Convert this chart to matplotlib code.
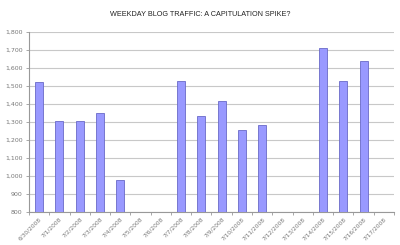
import numpy as np
import matplotlib
matplotlib.use("Agg")
import matplotlib.pyplot as plt
from matplotlib.ticker import FuncFormatter

# daily visits, weekends / holiday left blank
dates = ["6/30/2008", "7/1/2008", "7/2/2008", "7/3/2008", "7/4/2008", "7/5/2008",
         "7/6/2008", "7/7/2008", "7/8/2008", "7/9/2008", "7/10/2008", "7/11/2008",
         "7/12/2008", "7/13/2008", "7/14/2008", "7/15/2008", "7/16/2008", "7/17/2008"]
visits = [1521, 1308, 1304, 1348, 977, np.nan,
          np.nan, 1526, 1333, 1415, 1253, 1283,
          np.nan, np.nan, 1710, 1530, 1638, np.nan]

fig = plt.figure(figsize=(4, 2.45), dpi=100)
ax = fig.add_axes([0.0725, 0.1347, 0.9125, 0.7347])

x = np.arange(len(dates))
vals = np.array(visits, dtype=float)
mask = ~np.isnan(vals)
ax.bar(x[mask], vals[mask] - 800, bottom=800, width=0.4,
       color="#9999ff", edgecolor="#6a6ac8", linewidth=0.6, zorder=3)

ax.set_xlim(-0.5, len(dates) - 0.5)
ax.set_ylim(800, 1800)
ax.set_yticks(np.arange(800, 1801, 100))
ax.yaxis.set_major_formatter(FuncFormatter(lambda v, p: f"{int(v):,}"))
ax.grid(axis="y", color="#c8c8c8", linewidth=0.8, zorder=0)

ax.set_xticks(x)
ax.set_xticklabels(dates, rotation=45, ha="right", rotation_mode="anchor")
ax.set_xticks(np.arange(-0.5, len(dates), 1), minor=True)
ax.tick_params(axis="x", which="major", length=0, labelsize=4.2,
               labelcolor="#777777", pad=3)
ax.tick_params(axis="x", which="minor", length=2.5, color="#999999", width=0.6)
ax.tick_params(axis="y", length=2.5, color="#999999", width=0.6,
               labelsize=4.5, labelcolor="#777777", pad=2)

for s in ["top", "right"]:
    ax.spines[s].set_visible(False)
for s in ["left", "bottom"]:
    ax.spines[s].set_color("#999999")
    ax.spines[s].set_linewidth(0.8)

fig.text(0.5, 0.94, "WEEKDAY BLOG TRAFFIC: A CAPITULATION SPIKE?",
         ha="center", va="center", fontsize=5.2, color="#222222",
         family="Liberation Sans")

fig.savefig("out.png", dpi=100)
